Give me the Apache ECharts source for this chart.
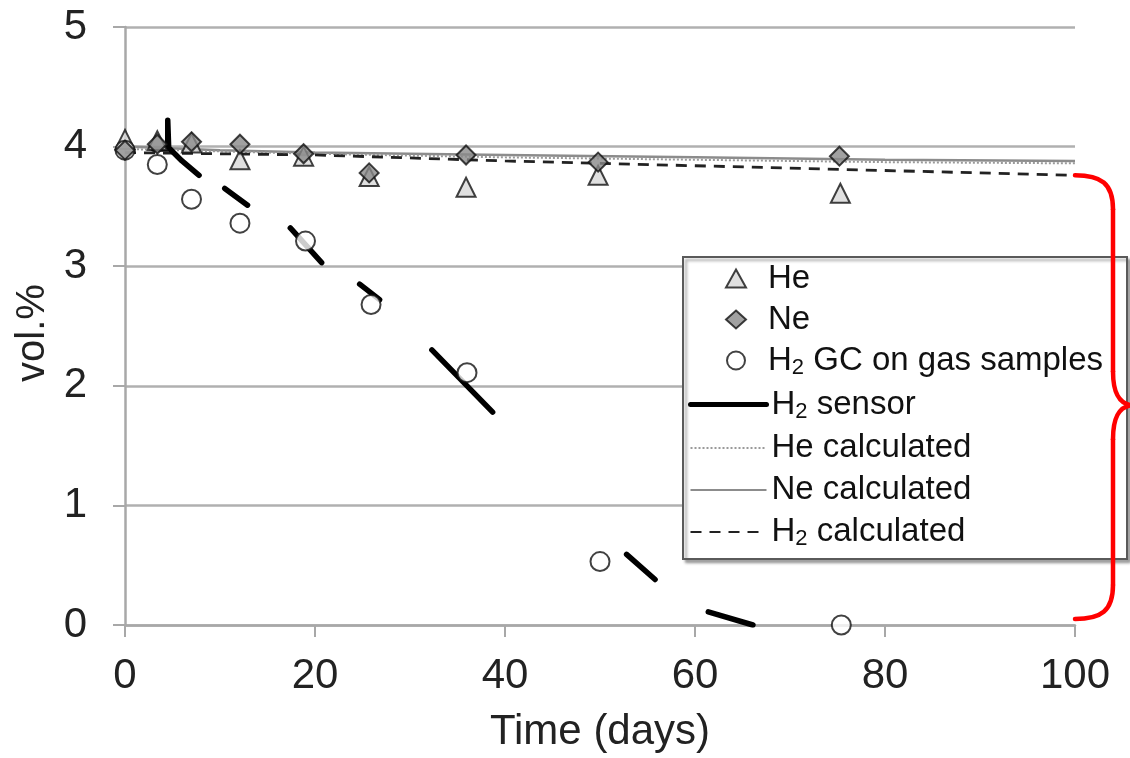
<!DOCTYPE html>
<html>
<head>
<meta charset="utf-8">
<script src="https://cdn.jsdelivr.net/npm/echarts@6/dist/echarts.min.js"></script>
<style>
html,body{margin:0;padding:0;background:#fff;}
#main{width:1130px;height:758px;}
</style>
</head>
<body>
<div id="main"></div>
<script>
// ---- data (days, vol.%) ----
const xTicks = [0, 20, 40, 60, 80, 100];
const yTicks = [0, 1, 2, 3, 4, 5];

const heDays = [0, 3.4, 7, 12.1, 18.8, 25.7, 35.9, 49.8, 75.3];
const heVals = [4.06, 4.05, 4.03, 3.89, 3.92, 3.75, 3.66, 3.76, 3.61];

const neDays = [0, 3.4, 7, 12.1, 18.8, 25.7, 35.9, 49.8, 75.2];
const neVals = [3.97, 4.02, 4.04, 4.02, 3.94, 3.78, 3.93, 3.87, 3.92];

const gcDays = [0, 3.4, 7, 12.1, 19.0, 25.9, 36.0, 50.0, 75.4];
const gcVals = [3.97, 3.85, 3.56, 3.36, 3.21, 2.68, 2.11, 0.53, 0.0];

const sensorSegments = [
  [[3.0, 3.98], [4.5, 3.98], [4.5, 4.22], [4.6, 3.99], [6.0, 3.88], [7.8, 3.76]],
  [[10.5, 3.65], [12.9, 3.51]],
  [[17.4, 3.32], [20.7, 3.03]],
  [[24.7, 2.85], [26.8, 2.72]],
  [[32.3, 2.30], [38.7, 1.78]],
  [[52.8, 0.59], [55.8, 0.38]],
  [[61.4, 0.11], [66.1, 0.0]]
];

const calcDays = [0, 10, 20, 40, 60, 80, 100];
const heCalc = [3.98, 3.96, 3.94, 3.91, 3.89, 3.87, 3.86];
const neCalc = [4.00, 3.97, 3.95, 3.93, 3.91, 3.89, 3.88];
const h2Calc = [3.95, 3.94, 3.93, 3.88, 3.84, 3.80, 3.76];

const names = {
  he: 'He', ne: 'Ne', gc: 'H2 GC on gas samples', sensor: 'H2 sensor',
  heC: 'He calculated', neC: 'Ne calculated', h2C: 'H2 calculated'
};

const FONT = '"Liberation Sans", Arial, sans-serif';
const zip = (xs, ys) => xs.map((x, i) => [x, ys[i]]);

const chart = echarts.init(document.getElementById('main'), null, {renderer: 'canvas'});

const series = [
  {name: names.neC, type: 'line', symbol: 'none', showSymbol: false, data: zip(calcDays, neCalc), z: 1,
   itemStyle: {color: '#8c8c8c'}, lineStyle: {color: '#8c8c8c', width: 2.5}},
  {name: names.heC, type: 'line', symbol: 'none', showSymbol: false, data: zip(calcDays, heCalc), z: 1,
   itemStyle: {color: '#9a9a9a'}, lineStyle: {color: '#9a9a9a', width: 2, type: [2, 2]}},
  {name: names.h2C, type: 'line', symbol: 'none', showSymbol: false, data: zip(calcDays, h2Calc), z: 1,
   itemStyle: {color: '#222'}, lineStyle: {color: '#222', width: 2.8, type: [11, 8]}}
];
sensorSegments.forEach(seg => {
  series.push({name: names.sensor, type: 'line', symbol: 'none', showSymbol: false, data: seg, z: 3,
    itemStyle: {color: '#000'}, lineStyle: {color: '#000', width: 5.5, cap: 'round', join: 'round'}});
});
series.push(
  {name: names.he, type: 'scatter', symbol: 'triangle', symbolSize: 19, data: zip(heDays, heVals), z: 4,
   itemStyle: {color: '#d8d8d8', borderColor: '#111', borderWidth: 2}},
  {name: names.ne, type: 'scatter', symbol: 'diamond', symbolSize: 19, data: zip(neDays, neVals), z: 5,
   itemStyle: {color: '#8a8a8a', borderColor: '#111', borderWidth: 2}},
  {name: names.gc, type: 'scatter', symbol: 'circle', symbolSize: 19, data: zip(gcDays, gcVals), z: 4,
   itemStyle: {color: '#fff', borderColor: '#111', borderWidth: 2}}
);

function makeFormatter(pad) {
  return function (name) {
    const pre = pad ? '{p| }' : '';
    if (name.indexOf('H2') === 0) {
      return pre + '{t|H}{s|2}{t|' + name.slice(2) + '}';
    }
    return pre + '{t|' + name + '}';
  };
}
const legendText = {
  fontFamily: FONT,
  rich: {
    p: {width: 17, fontSize: 33, lineHeight: 36},
    t: {fontSize: 33, color: '#111', fontFamily: FONT, lineHeight: 36},
    s: {fontSize: 22, color: '#111', fontFamily: FONT, lineHeight: 18, verticalAlign: 'bottom'}
  }
};

chart.setOption({
  animation: false,
  backgroundColor: '#fff',
  grid: {left: 125, right: 55, top: 27, bottom: 132},
  xAxis: {
    type: 'value', min: xTicks[0], max: xTicks[xTicks.length - 1], interval: 20,
    name: 'Time (days)', nameLocation: 'middle', nameGap: 86,
    nameTextStyle: {fontSize: 42, color: '#222', fontFamily: FONT},
    axisLine: {show: true, onZero: false, lineStyle: {color: '#a8a8a8', width: 2.5}},
    axisTick: {show: true, length: 12, lineStyle: {color: '#a8a8a8', width: 2}},
    axisLabel: {fontSize: 42, color: '#222', fontFamily: FONT, margin: 30},
    splitLine: {show: false}
  },
  yAxis: {
    type: 'value', min: yTicks[0], max: yTicks[yTicks.length - 1], interval: 1,
    name: 'vol.%', nameLocation: 'middle', nameGap: 72, nameRotate: 90,
    nameTextStyle: {fontSize: 40, color: '#222', fontFamily: FONT, padding: [0, 14, 0, 0]},
    axisLine: {show: true, onZero: false, lineStyle: {color: '#a8a8a8', width: 2.5}},
    axisTick: {show: true, length: 12, lineStyle: {color: '#a8a8a8', width: 2}},
    axisLabel: {fontSize: 42, color: '#222', fontFamily: FONT, margin: 38},
    splitLine: {show: true, lineStyle: {color: '#b0b0b0', width: 2.5}}
  },
  legend: [
    {
      data: [names.he, names.ne, names.gc],
      orient: 'vertical', left: 720, top: 257, itemWidth: 20, itemHeight: 18, itemGap: 8,
      formatter: makeFormatter(true), textStyle: legendText, z: 10
    },
    {
      data: [{name: names.sensor, lineStyle: {width: 5}}, names.heC, names.neC, names.h2C],
      orient: 'vertical', left: 683, top: 383, itemWidth: 76, itemHeight: 18, itemGap: 9,
      itemStyle: {opacity: 0},
      formatter: makeFormatter(false), textStyle: legendText, z: 10
    }
  ],
  series: series
});

// annotations: legend frame and red brace (anchored on the axes)
const pTop = chart.convertToPixel({gridIndex: 0}, [100, h2Calc[h2Calc.length - 1]]);
const pBot = chart.convertToPixel({gridIndex: 0}, [100, 0]);
const x0 = pTop[0], yT = pTop[1], yB = pBot[1] - 6;
const xv = x0 + 38, xp = x0 + 56, ym = (yT + yB) / 2 + 8;
const braceStyle = {stroke: '#ff0000', lineWidth: 4.5, lineCap: 'round', fill: null};

chart.setOption({
  graphic: [
    {type: 'rect', z: 5, shape: {x: 683, y: 257, width: 444, height: 302},
     style: {fill: '#fff', stroke: '#5a5a5a', lineWidth: 2,
             shadowColor: 'rgba(0,0,0,0.35)', shadowOffsetX: 3, shadowOffsetY: 3, shadowBlur: 3}},
    {type: 'bezierCurve', z: 20, style: braceStyle,
     shape: {x1: x0, y1: yT, cpx1: x0 + 26, cpy1: yT, cpx2: xv, cpy2: yT + 8, x2: xv, y2: yT + 34}},
    {type: 'line', z: 20, style: braceStyle, shape: {x1: xv, y1: yT + 34, x2: xv, y2: ym - 34}},
    {type: 'bezierCurve', z: 20, style: braceStyle,
     shape: {x1: xv, y1: ym - 34, cpx1: xv, cpy1: ym - 12, cpx2: xv + 6, cpy2: ym - 2, x2: xp, y2: ym}},
    {type: 'bezierCurve', z: 20, style: braceStyle,
     shape: {x1: xp, y1: ym, cpx1: xv + 6, cpy1: ym + 2, cpx2: xv, cpy2: ym + 12, x2: xv, y2: ym + 34}},
    {type: 'line', z: 20, style: braceStyle, shape: {x1: xv, y1: ym + 34, x2: xv, y2: yB - 34}},
    {type: 'bezierCurve', z: 20, style: braceStyle,
     shape: {x1: xv, y1: yB - 34, cpx1: xv, cpy1: yB - 8, cpx2: x0 + 26, cpy2: yB, x2: x0, y2: yB}}
  ]
});
</script>
</body>
</html>
